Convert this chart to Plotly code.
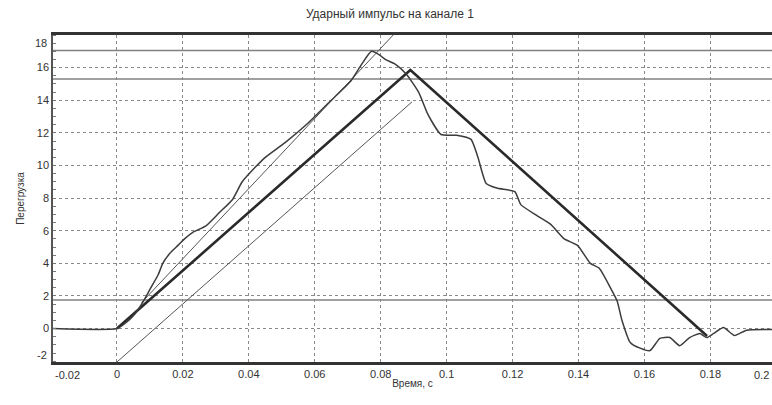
import plotly.graph_objects as go

# measured signal
t_sig = [-0.0194, 0, 0.003, 0.0055, 0.0078, 0.01, 0.0125, 0.0139, 0.016, 0.018, 0.0205, 0.023,
         0.027, 0.031, 0.035, 0.038, 0.042, 0.045, 0.051, 0.058, 0.065, 0.071, 0.0742, 0.0772,
         0.0795, 0.0814, 0.0845, 0.0878, 0.0915, 0.0944, 0.0983, 0.103, 0.1074, 0.1095, 0.112,
         0.1155, 0.1207, 0.1225, 0.1276, 0.1315, 0.1357, 0.1397, 0.1436, 0.1463, 0.1497, 0.1517,
         0.1532, 0.1557, 0.1587, 0.1617, 0.1647, 0.1677, 0.1707, 0.1737, 0.1768, 0.1789, 0.181,
         0.184, 0.1873, 0.191, 0.1987]
g_sig = [0, 0, 0.4, 0.9, 1.6, 2.4, 3.3, 4.0, 4.6, 5.0, 5.5, 5.9,
         6.3, 7.1, 7.9, 9.0, 9.9, 10.5, 11.4, 12.6, 14.0, 15.2, 16.2, 17.0,
         16.8, 16.5, 16.2, 15.6, 14.5, 13.1, 11.9, 11.85, 11.6, 10.5, 8.9,
         8.6, 8.4, 7.6, 6.9, 6.4, 5.5, 5.1, 4.0, 3.7, 2.5, 1.7,
         0.5, -0.85, -1.2, -1.35, -0.6, -0.55, -1.05, -0.55, -0.3, -0.55, -0.3,
         0.06, -0.43, -0.1, -0.06]

# triangular (reference) pulse
tri_t = [0, 0.089, 0.179]
tri_g = [0, 15.85, -0.45]

# offset line parallel to rising edge
off_t = [0, 0.0895]
off_g = [-2.05, 13.9]

# tangent line
tan_t = [0.0075, 0.0838]
tan_g = [1.6, 18.0]

# horizontal tolerance levels
h_levels = [17.05, 15.3, 1.75]

x_ticks = [0, 0.02, 0.04, 0.06, 0.08, 0.1, 0.12, 0.14, 0.16, 0.18]
x_labels = ["0", "0.02", "0.04", "0.06", "0.08", "0.1", "0.12", "0.14", "0.16", "0.18"]
y_ticks = [0, 2, 4, 6, 8, 10, 12, 14, 16]
y_labels = ["0", "2", "4", "6", "8", "10", "12", "14", "16"]

X0, X1 = -0.0194, 0.1987
Y0, Y1 = -2.05, 18.0

fig = go.Figure()

for h in h_levels:
    fig.add_trace(go.Scatter(x=[X0, X1], y=[h, h], mode="lines",
                             line=dict(color="#808080", width=1.6), showlegend=False, hoverinfo="skip"))

fig.add_trace(go.Scatter(x=off_t, y=off_g, mode="lines",
                         line=dict(color="#555555", width=1), showlegend=False))
fig.add_trace(go.Scatter(x=tan_t, y=tan_g, mode="lines",
                         line=dict(color="#555555", width=1), showlegend=False))
fig.add_trace(go.Scatter(x=tri_t, y=tri_g, mode="lines",
                         line=dict(color="#2a2a2a", width=2.6), showlegend=False))
fig.add_trace(go.Scatter(x=t_sig, y=g_sig, mode="lines", line_shape="spline",
                         line=dict(color="#3c3c3c", width=1.5, smoothing=0.5), showlegend=False))

font_col = "#333333"
fig.update_layout(
    width=772, height=405,
    margin=dict(l=53, r=0, t=35, b=43),
    paper_bgcolor="white", plot_bgcolor="white",
    font=dict(family="Liberation Sans, Arial, sans-serif", size=11, color=font_col),
    title=dict(text="Ударный импульс на канале 1", x=0.505, xanchor="center",
               y=0.965, yanchor="middle", font=dict(size=12, color=font_col)),
    xaxis=dict(range=[X0, X1], tickvals=x_ticks, ticktext=x_labels,
               showgrid=True, gridcolor="#8a8a8a", griddash="dot", gridwidth=1,
               zeroline=False, showline=True, linecolor="#333333", linewidth=2.5,
               mirror=True, ticks="", tickfont=dict(size=11),
               title=dict(text="Время, с", font=dict(size=10), standoff=2)),
    yaxis=dict(range=[Y0, Y1], tickvals=y_ticks, ticktext=y_labels,
               showgrid=True, gridcolor="#8a8a8a", griddash="dot", gridwidth=1,
               zeroline=False, showline=True, linecolor="#555555", linewidth=1.5,
               ticks="", tickfont=dict(size=11),
               minor=dict(ticks="inside", ticklen=3, tickcolor="#777777", dtick=0.5, showgrid=False),
               title=dict(text="Перегрузка", font=dict(size=10), standoff=10)),
)

# edge tick labels that sit shifted inside the frame
fig.add_annotation(xref="paper", yref="paper", x=(67 - 53) / 719, y=-0.005, yanchor="top",
                   xanchor="center", text="-0.02", showarrow=False,
                   font=dict(size=11, color=font_col), yshift=-3)
fig.add_annotation(xref="paper", yref="paper", x=1.0, y=-0.005, yanchor="top",
                   xanchor="right", text="0.2", showarrow=False,
                   font=dict(size=11, color=font_col), yshift=-3, xshift=-1)
fig.add_annotation(xref="paper", yref="y", x=0, y=-1.6, xanchor="right",
                   text="-2", showarrow=False, font=dict(size=11, color=font_col), xshift=-4)
fig.add_annotation(xref="paper", yref="y", x=0, y=17.5, xanchor="right",
                   text="18", showarrow=False, font=dict(size=11, color=font_col), xshift=-4)

fig.write_html("out.html")
